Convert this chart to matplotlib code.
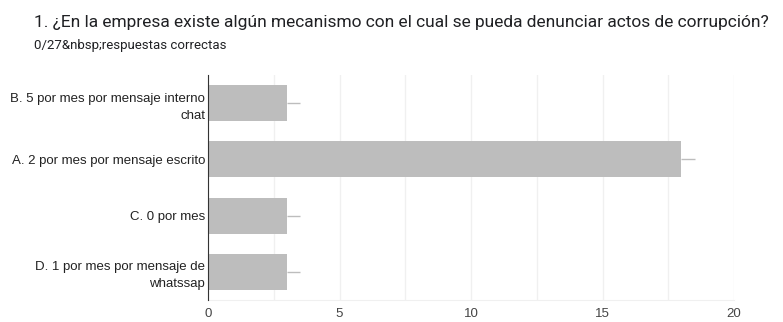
import matplotlib.pyplot as plt

# Respuestas por opcion (de arriba a abajo)
categories = ['B. 5 por mes por mensaje interno\nchat',
              'A. 2 por mes por mensaje escrito',
              'C. 0 por mes',
              'D. 1 por mes por mensaje de\nwhatssap']
counts = [3, 18, 3, 3]
whisker = [0.5, 0.5, 0.5, 0.5]
x_ticks = [0, 5, 10, 15, 20]

fig = plt.figure(figsize=(7.83, 3.22), dpi=100)
ax = fig.add_axes([208/783, 1 - 300/322, (734 - 208)/783, 225/322])

y = list(range(len(categories)))
ax.barh(y, counts, height=0.64, color='#bdbdbd', zorder=3)
ax.errorbar(counts, y, xerr=[[0]*len(counts), whisker], fmt='none',
            ecolor='#bdbdbd', elinewidth=1, capsize=0, zorder=2)

ax.set_xlim(0, 20)
ax.set_ylim(3.5, -0.5)
ax.set_xticks(x_ticks)
ax.set_xticks([2.5, 7.5, 12.5, 17.5], minor=True)
ax.set_yticks(y)
ax.set_yticklabels(categories, fontsize=9.5, family='Liberation Sans', color='#222222',
                   linespacing=1.55, multialignment='right')
ax.tick_params(axis='x', labelsize=9.5, colors='#444444', length=0, pad=6, which='both')
ax.tick_params(axis='y', length=0, pad=2)
for lab in ax.get_xticklabels():
    lab.set_family('Liberation Sans')
ax.grid(axis='x', which='both', color='#f0f0f0', linewidth=1, zorder=0)

for side in ['top', 'right']:
    ax.spines[side].set_visible(False)
ax.spines['bottom'].set_color('#f0f0f0')
ax.spines['left'].set_color('#333333')
ax.spines['left'].set_zorder(4)

fig.text(34/783, 1 - 22/322, '1. ¿En la empresa existe algún mecanismo con el cual se pueda denunciar actos de corrupción?',
         fontsize=12.5, family='Roboto', color='#202124', va='center')
fig.text(34/783, 1 - 45/322, '0/27&nbsp;respuestas correctas',
         fontsize=9.5, family='Roboto', color='#202124', va='center')

fig.savefig('out.png', dpi=100)
